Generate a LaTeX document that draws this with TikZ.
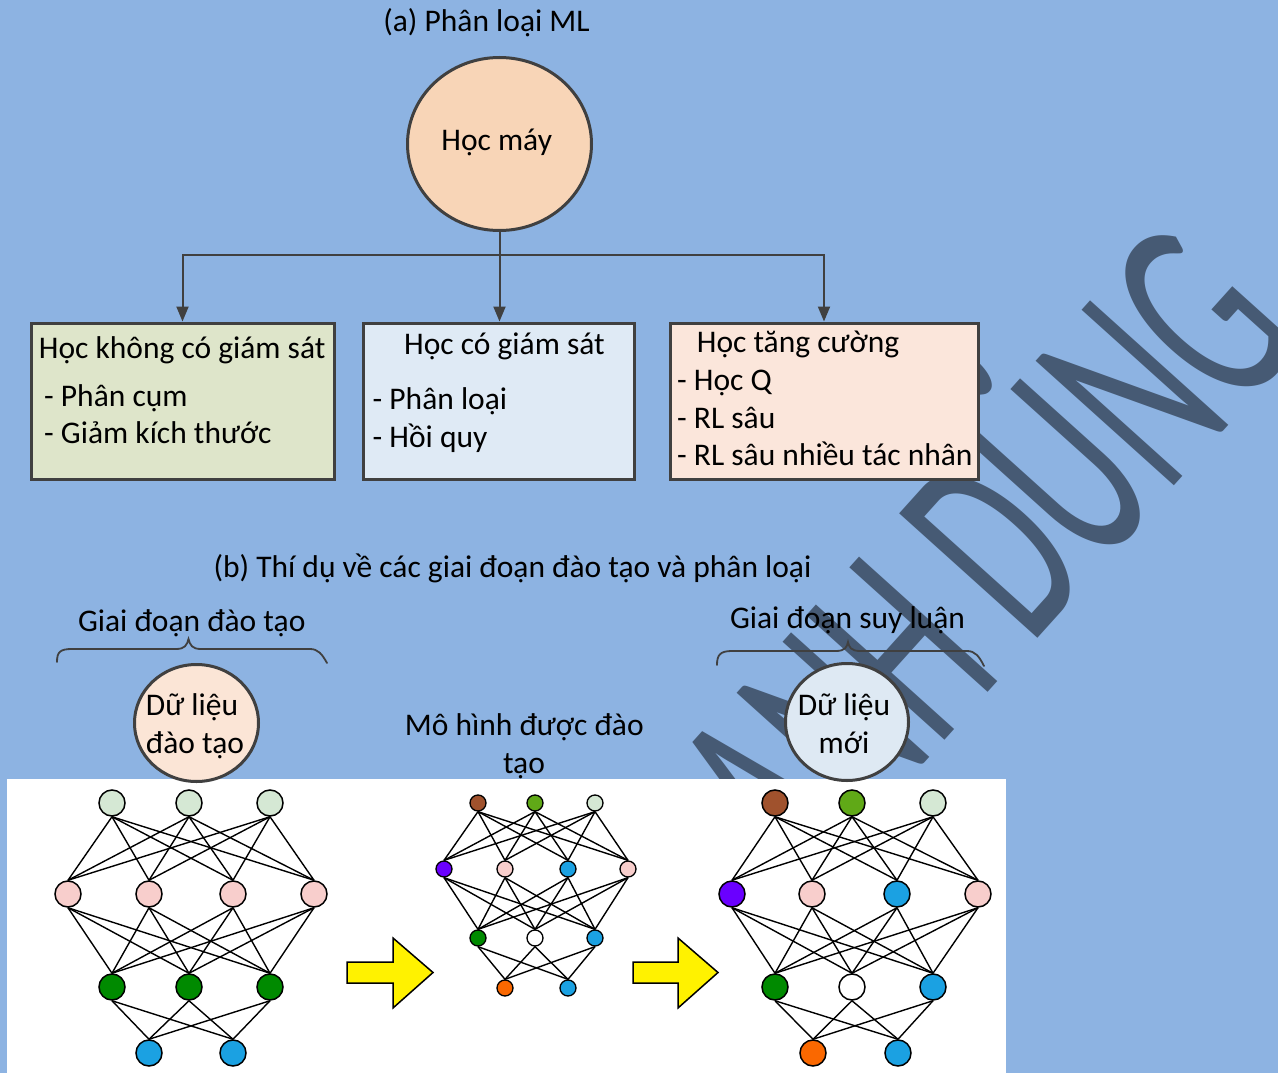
\documentclass[tikz,border=0pt]{standalone}
\usepackage{fontspec}
\setmainfont{Carlito}
\usetikzlibrary{arrows.meta,shapes.geometric}

\definecolor{pagebg}{HTML}{8DB3E2}
\definecolor{ink}{HTML}{404040}
\definecolor{wmark}{HTML}{465A74}
\definecolor{rootfill}{HTML}{F8D5B7}
\definecolor{unsupfill}{HTML}{DEE5CA}
\definecolor{supfill}{HTML}{DFEAF5}
\definecolor{rlfill}{HTML}{FBE6DB}
\definecolor{trainfill}{HTML}{FBE5D6}
\definecolor{newfill}{HTML}{DEE9F3}
\definecolor{nlgreen}{HTML}{D5E8D4}
\definecolor{npink}{HTML}{F8CECC}
\definecolor{ngreen}{HTML}{008A00}
\definecolor{nblue}{HTML}{1BA1E2}
\definecolor{nbrown}{HTML}{A0522D}
\definecolor{nlime}{HTML}{60A917}
\definecolor{npurple}{HTML}{6A00FF}
\definecolor{norange}{HTML}{FA6800}

\tikzset{
  lbl/.style={font=\fontsize{31.5}{38}\selectfont, inner sep=0pt, text=black},
  catbox/.style={draw=ink, line width=3pt, rectangle, inner sep=0pt},
  bubble/.style={draw=ink, line width=3pt, ellipse, inner sep=0pt},
  conn/.style={draw=ink, line width=2pt},
  tip/.style={-{Triangle[length=15pt,width=12pt]}},
  bracepath/.style={draw=ink, line width=1.8pt, line cap=round},
  neuron/.style={circle, draw=black, line width=1.5pt, inner sep=0pt, minimum size=26pt},
  sneuron/.style={circle, draw=black, line width=1.3pt, inner sep=0pt, minimum size=16pt},
  synapse/.style={draw=black, line width=1.4pt},
  blockarrow/.style={draw=black, fill=yellow, line width=1.5pt, line join=miter},
}

\begin{document}
\begin{tikzpicture}[x=1pt,y=-1pt]
\useasboundingbox (0,0) rectangle (1278,1073);
\fill[pagebg] (0,0) rectangle (1278,1073);

% diagonal watermark behind everything
\node[rotate=48, text=wmark, inner sep=0pt, font=\fontsize{290}{290}\selectfont] (wm) at (970,542) {\scalebox{0.56}[1]{ANH DŨNG}};

% white panel holding the three networks
\fill[white] (7,779) rectangle (1006,1073);

% ---------- (a) taxonomy ----------
\node[lbl, anchor=base] (titleA) at (486.5,32) {(a) Phân loại ML};
\node[bubble, fill=rootfill, minimum width=184pt, minimum height=173pt] (root) at (499.5,144) {};
\node[lbl, anchor=base] (rootlbl) at (496.7,150) {Học máy};

\node[catbox, fill=unsupfill, minimum width=303pt, minimum height=156pt] (box1) at (182.5,401) {};
\node[catbox, fill=supfill, minimum width=271pt, minimum height=156pt] (box2) at (499,401) {};
\node[catbox, fill=rlfill, minimum width=308pt, minimum height=156pt] (box3) at (824,401) {};

\coordinate (hub) at (499.5,255);
\draw[conn,tip] (root.south) -- (root.south |- box2.north);
\draw[conn,tip] (hub) -| (box1.north);
\draw[conn,tip] (hub) -| (box3.north);

\node[lbl, anchor=base west] (u0) at (38.7,358) {Học không có giám sát};
\node[lbl, anchor=base west] (u1) at (44,406) {- Phân cụm};
\node[lbl, anchor=base west] (u2) at (44,443) {- Giảm kích thước};

\node[lbl, anchor=base] (s0) at (504.5,354) {Học có giám sát};
\node[lbl, anchor=base west] (s1) at (372.5,409) {- Phân loại};
\node[lbl, anchor=base west] (s2) at (372.5,447) {- Hồi quy};

\node[lbl, anchor=base west] (r0) at (696.7,352) {Học tăng cường};
\node[lbl, anchor=base west] (r1) at (677,390) {- Học Q};
\node[lbl, anchor=base west] (r2) at (677,428) {- RL sâu};
\node[lbl, anchor=base west] (r3) at (677,465.5) {- RL sâu nhiều tác nhân};

% ---------- (b) training and inference ----------
\node[lbl, anchor=base] (titleB) at (512.5,577) {(b) Thí dụ về các giai đoạn đào tạo và phân loại};
\node[lbl, anchor=base] (trainlbl) at (191.7,631) {Giai đoạn đào tạo};
\node[lbl, anchor=base] (inferlbl) at (847.5,628) {Giai đoạn suy luận};

\draw[bracepath] (57,662) .. controls (57,652) and (60,649) .. (72,649) -- (176,649)
  .. controls (185,649) and (187,645) .. (188.5,639)
  .. controls (190,645) and (192,649) .. (201,649) -- (310,649)
  .. controls (318,649) and (322,654) .. (327,663);
\draw[bracepath] (717,665) .. controls (717,655) and (720,651) .. (732,651) -- (836,651)
  .. controls (845,651) and (847,647) .. (848,642)
  .. controls (849,647) and (851,651) .. (860,651) -- (967,651)
  .. controls (975,651) and (979,656) .. (984,666);

\node[bubble, fill=trainfill, minimum width=124pt, minimum height=117pt] (traindata) at (196.5,723) {};
\node[lbl, anchor=base] (td1) at (192,715) {Dữ liệu};
\node[lbl, anchor=base] (td2) at (195,753) {đào tạo};

\node[bubble, fill=newfill, minimum width=123pt, minimum height=117pt] (newdata) at (847,722) {};
\node[lbl, anchor=base] (nd1) at (844,715.5) {Dữ liệu};
\node[lbl, anchor=base] (nd2) at (844,753) {mới};

\node[lbl, anchor=base] (mm1) at (524.3,735) {Mô hình được đào};
\node[lbl, anchor=base] (mm2) at (524,773) {tạo};

% untrained network
\foreach \x/\c [count=\i] in {112/nlgreen,189/nlgreen,270/nlgreen} \node[neuron,fill=\c] (La\i) at (\x,803) {};
\foreach \x/\c [count=\i] in {68/npink,149/npink,233/npink,314/npink} \node[neuron,fill=\c] (Lb\i) at (\x,894) {};
\foreach \x/\c [count=\i] in {112/ngreen,189/ngreen,270/ngreen} \node[neuron,fill=\c] (Lc\i) at (\x,987) {};
\foreach \x/\c [count=\i] in {149/nblue,233/nblue} \node[neuron,fill=\c] (Ld\i) at (\x,1053) {};
\foreach \i in {1,2,3} \foreach \j in {1,...,4} \draw[synapse] (La\i.south) -- (Lb\j.north);
\foreach \i in {1,...,4} \foreach \j in {1,2,3} \draw[synapse] (Lb\i.south) -- (Lc\j.north);
\foreach \i in {1,2,3} \foreach \j in {1,2} \draw[synapse] (Lc\i.south) -- (Ld\j.north);

% trained model
\foreach \x/\c [count=\i] in {478/nbrown,535/nlime,595/nlgreen} \node[sneuron,fill=\c] (Ma\i) at (\x,803) {};
\foreach \x/\c [count=\i] in {444/npurple,505/npink,568/nblue,628/npink} \node[sneuron,fill=\c] (Mb\i) at (\x,869) {};
\foreach \x/\c [count=\i] in {478/ngreen,535/white,595/nblue} \node[sneuron,fill=\c] (Mc\i) at (\x,938) {};
\foreach \x/\c [count=\i] in {505/norange,568/nblue} \node[sneuron,fill=\c] (Md\i) at (\x,988) {};
\foreach \i in {1,2,3} \foreach \j in {1,...,4} \draw[synapse] (Ma\i.south) -- (Mb\j.north);
\foreach \i in {1,...,4} \foreach \j in {1,2,3} \draw[synapse] (Mb\i.south) -- (Mc\j.north);
\foreach \i in {1,2,3} \foreach \j in {1,2} \draw[synapse] (Mc\i.south) -- (Md\j.north);

% model applied to new data
\foreach \x/\c [count=\i] in {775/nbrown,852/nlime,933/nlgreen} \node[neuron,fill=\c] (Ra\i) at (\x,803) {};
\foreach \x/\c [count=\i] in {732/npurple,812/npink,897/nblue,978/npink} \node[neuron,fill=\c] (Rb\i) at (\x,894) {};
\foreach \x/\c [count=\i] in {775/ngreen,852/white,933/nblue} \node[neuron,fill=\c] (Rc\i) at (\x,987) {};
\foreach \x/\c [count=\i] in {813/norange,898/nblue} \node[neuron,fill=\c] (Rd\i) at (\x,1053) {};
\foreach \i in {1,2,3} \foreach \j in {1,...,4} \draw[synapse] (Ra\i.south) -- (Rb\j.north);
\foreach \i in {1,...,4} \foreach \j in {1,2,3} \draw[synapse] (Rb\i.south) -- (Rc\j.north);
\foreach \i in {1,2,3} \foreach \j in {1,2} \draw[synapse] (Rc\i.south) -- (Rd\j.north);

% yellow block arrows between the stages
\draw[blockarrow] (347,962) -- (393,962) -- (393,938) -- (433,972.5) -- (393,1008) -- (393,983) -- (347,983) -- cycle;
\draw[blockarrow] (633,962) -- (678,962) -- (678,938) -- (718,972.5) -- (678,1008) -- (678,983) -- (633,983) -- cycle;
\end{tikzpicture}
\end{document}
